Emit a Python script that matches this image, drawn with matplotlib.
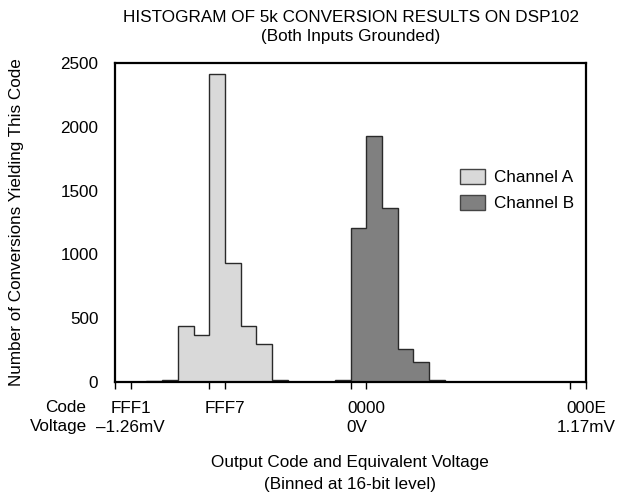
import numpy as np
import matplotlib
matplotlib.use('Agg')
import matplotlib.pyplot as plt
from matplotlib.patches import Patch

plt.rcParams['font.family'] = ['Liberation Sans', 'DejaVu Sans']

#==============================================================================
# Data: counts per output code (code 0 = 0000, negative = FFFx)
#==============================================================================
edges_a = [-14, -13, -12, -11, -10, -9, -8, -7, -6, -5]
counts_a = [6, 15, 440, 370, 2410, 930, 440, 300, 18]
edges_b = [-2, -1, 0, 1, 2, 3, 4, 5]
counts_b = [15, 1210, 1930, 1360, 260, 160, 15]

code_ticks = [-15, -9, 0, 14]
code_labels = ['FFF1', 'FFF7', '0000', '000E']
volt_ticks = [-15, 14]
volt_labels = ['\u20131.26mV', '1.17mV']

fs = 12.3
fig = plt.figure(figsize=(6.22, 4.97), dpi=100)
ax = fig.add_axes([115/622, 1-382/497, (586-115)/622, (382-63)/497])

ax.stairs(counts_a, edges_a, fill=True, facecolor='#d9d9d9',
          edgecolor='#2a2a2a', linewidth=1.0, label='Channel A')
ax.stairs(counts_b, edges_b, fill=True, facecolor='#808080',
          edgecolor='#2a2a2a', linewidth=1.0, label='Channel B')

ax.set_xlim(-16, 14)
ax.set_ylim(0, 2500)
ax.set_yticks([0, 500, 1000, 1500, 2000, 2500])
ax.tick_params(axis='y', length=0, labelsize=fs, pad=12)
ax.set_xticks([-16, -15, -10, -9, -1, 0, 13, 14])
ax.set_xticklabels([])
ax.tick_params(axis='x', length=5, width=1, direction='out')
for s in ax.spines.values():
    s.set_linewidth(1.6)

# code / voltage rows
for x, t in zip(code_ticks, code_labels):
    ax.text(x, -0.083, t, transform=ax.get_xaxis_transform(), ha='center', va='center', fontsize=fs)
for x, t in zip(volt_ticks, volt_labels):
    ax.text(x, -0.142, t, transform=ax.get_xaxis_transform(), ha='center', va='center', fontsize=fs)
ax.text(-1.25, -0.142, '0V', transform=ax.get_xaxis_transform(), ha='left', va='center', fontsize=fs)
fig.text(86/622, 1-407/497, 'Code', ha='right', va='center', fontsize=fs)
fig.text(87/622, 1-426/497, 'Voltage', ha='right', va='center', fontsize=fs)

fig.text(350/622, 1-463/497, 'Output Code and Equivalent Voltage', ha='center', va='center', fontsize=fs)
fig.text(350/622, 1-484/497, '(Binned at 16-bit level)', ha='center', va='center', fontsize=fs)
fig.text(351/622, 1-18/497, 'HISTOGRAM OF 5k CONVERSION RESULTS ON DSP102', ha='center', va='center', fontsize=fs)
fig.text(351/622, 1-37/497, '(Both Inputs Grounded)', ha='center', va='center', fontsize=fs)
fig.text(17/622, 1-222/497, 'Number of Conversions Yielding This Code', rotation=90,
         ha='center', va='center', fontsize=fs)

handles = [Patch(facecolor='#d9d9d9', edgecolor='#444444', label='Channel A'),
           Patch(facecolor='#808080', edgecolor='#444444', label='Channel B')]
ax.legend(handles=handles, loc='upper left', bbox_to_anchor=(460/622, 1-169/497),
          bbox_transform=fig.transFigure, frameon=False, fontsize=fs,
          handlelength=1.45, handleheight=1.0, handletextpad=0.55, labelspacing=0.55,
          borderpad=0, borderaxespad=0)

plt.savefig('out.png', dpi=100)
